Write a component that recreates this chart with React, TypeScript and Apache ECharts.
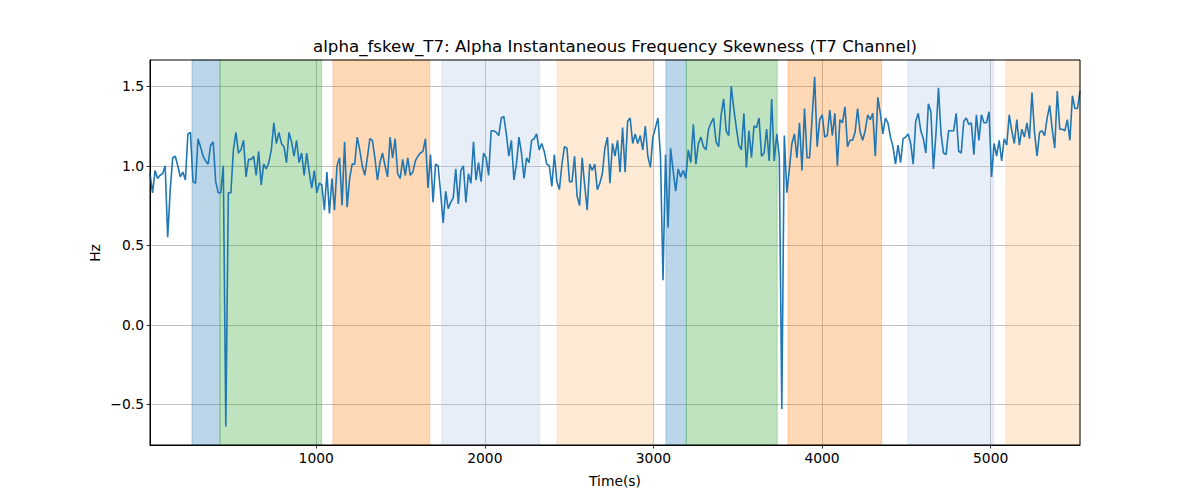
import React, { useEffect, useRef } from "react";
import * as echarts from "echarts";

const TITLE = "alpha_fskew_T7: Alpha Instantaneous Frequency Skewness (T7 Channel)";
const X_LABEL = "Time(s)";
const Y_LABEL = "Hz";

const TIME_START = 14;
const TIME_END = 5530;
const X_MIN = 14;
const X_MAX = 5530;
const Y_MIN = -0.756;
const Y_MAX = 1.665;
const X_TICKS = [1000, 2000, 3000, 4000, 5000];
const Y_TICKS = [-0.5, 0, 0.5, 1.0, 1.5];

// Alpha instantaneous frequency skewness (Hz), evenly sampled from TIME_START to TIME_END
const skewHz = [
  0.95, 0.83, 0.97, 0.92, 0.94, 0.95, 1.0, 0.55, 0.85, 1.05, 1.06, 1.0, 0.93, 0.96, 0.91, 1.20, 1.21, 0.90, 0.89, 1.17,
  1.12, 1.06, 1.03, 1.01, 1.13, 1.15, 0.90, 0.83, 0.83, 1.0, -0.64, 0.83, 0.83, 1.10, 1.21, 1.08, 1.10, 1.16, 0.93, 1.04,
  1.04, 1.06, 0.94, 1.09, 0.88, 1.01, 0.98, 1.02, 1.10, 1.27, 1.14,
  1.21, 1.14, 1.12, 1.02, 1.21, 1.15, 1.06, 1.16, 1.02, 1.08, 0.94, 1.08, 0.96, 0.86, 0.97, 0.83, 0.89, 0.88, 0.72, 0.96,
  0.70, 0.92, 0.72, 1.0, 1.05, 0.75, 1.15, 0.74, 0.92, 1.01, 1.01, 1.18, 1.10, 1.0, 0.94, 1.05, 1.17, 1.16, 1.05, 0.91,
  1.02, 1.08, 1.0, 0.93, 1.18, 1.05, 1.17, 0.95, 0.92, 1.04, 0.94, 1.05, 0.94,
  0.96, 1.03, 1.06, 1.08, 1.09, 1.17, 0.86, 1.07, 0.77, 1.01, 1.0, 0.83, 0.64, 0.84, 0.73, 0.77, 0.80, 0.98, 0.76, 0.97,
  1.0, 0.77, 0.95, 0.89, 1.15, 0.91, 1.02, 0.90, 1.08, 1.05, 0.94, 1.22, 1.22, 1.21, 1.19, 1.30, 1.31, 1.20, 1.06, 1.16,
  0.91, 1.01, 1.18, 1.08, 0.92, 1.05, 1.02, 1.16, 1.17, 1.20, 1.10, 1.14, 1.09,
  1.01, 1.0, 0.87, 1.07, 0.90, 0.85, 1.01, 1.12, 1.11, 0.90, 0.90, 1.06, 0.81, 0.75, 1.05, 0.88, 0.72, 1.01, 0.97, 1.01,
  0.85, 0.89, 0.95, 1.11, 1.18, 0.89, 1.14, 1.06, 1.16, 0.96, 1.24, 0.96, 1.28, 1.30, 1.14, 1.20, 1.14, 1.19, 1.10, 1.25,
  1.06, 0.99, 1.18, 1.24, 1.30, 1.06, 0.28, 1.07, 0.61, 1.11, 0.97, 0.84, 0.98,
  0.93, 0.97, 0.92, 1.10, 1.02, 1.26, 1.01, 1.14, 1.18, 1.12, 1.10, 1.23, 1.27, 1.30, 1.15, 1.12, 1.32, 1.42, 1.22, 1.19,
  1.50, 1.36, 1.24, 1.13, 1.10, 1.33, 0.99, 1.22, 1.05, 1.25, 1.24, 1.30, 1.06, 1.08, 1.23, 1.03, 1.42, 1.03, 1.20, 1.06,
  -0.53, 1.19, 0.83, 0.98, 1.14, 1.20, 1.05, 1.27, 0.97, 1.36, 1.05, 1.05, 1.30,
  1.56, 1.12, 1.29, 1.32, 1.18, 1.19, 1.35, 1.19, 1.33, 1.0, 1.29, 1.27, 1.37, 1.12, 1.16, 1.16, 1.21, 1.36, 1.21, 1.16,
  1.22, 1.32, 1.29, 1.33, 1.06, 1.43, 1.33, 1.20, 1.30, 1.27, 1.18, 1.12, 1.01, 1.13, 1.02, 1.17, 1.18, 1.20, 1.14, 1.01,
  1.28, 1.33, 1.22, 1.17, 1.08, 1.39, 1.34, 0.98, 1.20, 1.49, 1.20, 1.08,
  1.07, 1.22, 1.22, 1.22, 1.33, 1.09, 1.08, 1.28, 1.30, 1.26, 1.27, 1.07, 1.32, 1.16, 1.32, 1.27, 1.27, 1.34, 0.93, 1.14,
  1.06, 1.16, 1.03, 1.17, 1.13, 1.32, 1.22, 1.14, 1.29, 1.13, 1.23, 1.18, 1.27, 1.17, 1.46, 1.21, 1.06, 1.21, 1.22, 1.19,
  1.30, 1.38, 1.23, 1.11, 1.47, 1.23, 1.23, 1.22, 1.29, 1.16, 1.44, 1.36, 1.36, 1.47,
];

// Shaded intervals (seconds)
const bandStart = [263, 429, 1099, 1745, 2428, 3074, 3195, 3798, 4509, 5090];
const bandEnd = [429, 1032, 1673, 2325, 3001, 3195, 3734, 4353, 5018, 5530];
const bandColor = [
  "rgba(31,119,180,0.3)",
  "rgba(44,160,44,0.3)",
  "rgba(255,127,14,0.3)",
  "rgba(174,199,232,0.3)",
  "rgba(255,187,120,0.3)",
  "rgba(31,119,180,0.3)",
  "rgba(44,160,44,0.3)",
  "rgba(255,127,14,0.3)",
  "rgba(174,199,232,0.3)",
  "rgba(255,187,120,0.3)",
];

const FONT = '"DejaVu Sans", "Liberation Sans", sans-serif';

export default function App() {
  const ref = useRef<HTMLDivElement>(null);

  useEffect(() => {
    if (!ref.current) return;
    const chart = echarts.init(ref.current, null, { renderer: "svg" });
    const n = skewHz.length;
    const step = (TIME_END - TIME_START) / (n - 1);
    const lineData = skewHz.map((v, i) => [TIME_START + i * step, v]);

    const areas = bandStart.map((s, i) => [
      { xAxis: s, itemStyle: { color: bandColor[i], borderColor: bandColor[i], borderWidth: 1 } },
      { xAxis: bandEnd[i] },
    ]);

    const fmtY = (v: number) => v.toFixed(1).replace("-", "\u2212");

    chart.setOption({
      animation: false,
      backgroundColor: "#ffffff",
      grid: { left: 150, right: 120, top: 60, bottom: 55, show: false },
      xAxis: {
        type: "value",
        min: X_MIN,
        max: X_MAX,
        axisLine: { show: true, onZero: false, lineStyle: { color: "#000", width: 1 } },
        axisTick: { show: true, inside: false, length: 3.5, customValues: X_TICKS, lineStyle: { color: "#000", width: 0.8 } },
        axisLabel: {
          customValues: X_TICKS,
          margin: 6,
          color: "#000",
          fontFamily: FONT,
          fontSize: 13.89,
          formatter: (v: number) => String(v),
        },
        splitLine: { show: true, lineStyle: { color: "#b0b0b0", width: 0.8 } },
      },
      yAxis: {
        type: "value",
        min: Y_MIN,
        max: Y_MAX,
        axisLine: { show: true, onZero: false, lineStyle: { color: "#000", width: 1 } },
        axisTick: { show: true, inside: false, length: 3.5, customValues: Y_TICKS, lineStyle: { color: "#000", width: 0.8 } },
        axisLabel: {
          customValues: Y_TICKS,
          margin: 6,
          color: "#000",
          fontFamily: FONT,
          fontSize: 13.89,
          formatter: fmtY,
        },
        splitLine: { show: true, lineStyle: { color: "#b0b0b0", width: 0.8 } },
      },
      series: [
        {
          type: "line",
          data: lineData,
          showSymbol: false,
          symbol: "none",
          clip: true,
          lineStyle: { color: "#1f77b4", width: 1.6 },
          itemStyle: { color: "#1f77b4" },
          markArea: { silent: true, data: areas },
          z: 3,
        },
      ],
      graphic: [
        {
          type: "rect",
          z: 100,
          silent: true,
          shape: { x: 150, y: 60, width: 930, height: 385 },
          style: { fill: "none", stroke: "#000", lineWidth: 1 },
        },
        {
          type: "text",
          x: 615,
          y: 46,
          style: {
            text: TITLE,
            font: `16.67px ${FONT}`,
            fill: "#000",
            align: "center",
            textAlign: "center",
            verticalAlign: "middle",
            textVerticalAlign: "middle",
          },
        },
        {
          type: "text",
          x: 615,
          y: 481,
          style: {
            text: X_LABEL,
            font: `13.89px ${FONT}`,
            fill: "#000",
            align: "center",
            textAlign: "center",
            verticalAlign: "middle",
            textVerticalAlign: "middle",
          },
        },
        {
          type: "text",
          x: 95,
          y: 253,
          rotation: Math.PI / 2,
          style: {
            text: Y_LABEL,
            font: `13.89px ${FONT}`,
            fill: "#000",
            align: "center",
            textAlign: "center",
            verticalAlign: "middle",
            textVerticalAlign: "middle",
          },
        },
      ],
    });

    return () => chart.dispose();
  }, []);

  return (
    <div
      ref={ref}
      style={{ position: "fixed", left: 0, top: 0, width: 1200, height: 500, background: "#fff" }}
    />
  );
}
